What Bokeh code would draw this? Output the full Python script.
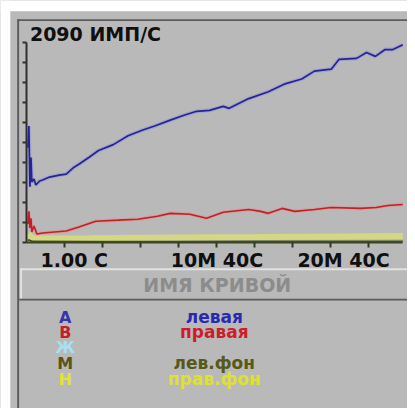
from bokeh.plotting import figure
from bokeh.models import Range1d, FixedTicker, Label, BoxAnnotation, LinearAxis
from bokeh.embed import file_html
from bokeh.resources import INLINE

# ---- data (time in seconds, counts in imp/s) ----
t_left = [5, 9, 14, 19, 23, 33, 42, 60, 74, 107, 153, 186, 223, 246, 293, 339, 409, 479,
          549, 605, 679, 744, 804, 865, 930, 958, 1051, 1144, 1223, 1302, 1362, 1442, 1479,
          1562, 1609, 1651, 1697, 1734, 1781]
left_counts = [994, 1219, 584, 891, 635, 666, 604, 645, 656, 686, 707, 717, 789, 820, 891, 963,
               1025, 1117, 1178, 1219, 1281, 1332, 1373, 1383, 1424, 1404, 1506, 1578, 1660,
               1711, 1793, 1813, 1916, 1926, 1988, 1947, 2018, 2018, 2069]

t_right = [5, 9, 14, 19, 23, 33, 47, 74, 130, 186, 246, 326, 432, 525, 618, 679, 772, 851,
           930, 1051, 1107, 1144, 1209, 1269, 1362, 1442, 1581, 1655, 1711, 1781]
right_counts = [195, 328, 154, 256, 113, 174, 92, 102, 113, 123, 164, 225, 236, 246, 277, 307,
                297, 256, 318, 348, 328, 307, 359, 328, 348, 369, 359, 369, 389, 400]

t_bg = [5, 30, 300, 700, 1100, 1500, 1781]
left_bg_counts = [30, 12, 10, 10, 12, 12, 14]
right_bg_counts = [90, 45, 48, 55, 60, 66, 70]

scale_max = 2090
t_max = 1780
y_ticks = [0, 209, 418, 627, 836, 1045, 1254, 1463, 1672, 1881, 2090]
x_ticks = [180, 360, 540, 720, 900, 1080, 1260, 1440, 1620]
x_tick_values = [1, 640, 1240]
x_tick_labels = ["1.00 С", "10М 40С", "20М 40С"]

title_text = "2090 ИМП/С"
header_text = "ИМЯ КРИВОЙ"
legend_keys = ["А", "В", "Ж", "М", "Н"]
legend_names = ["левая", "правая", "", "лев.фон", "прав.фон"]
key_colors = ["#3636a8", "#c41e2a", "#a8e0f0", "#5a5418", "#e4e42a"]
name_colors = ["#2a2ab0", "#cc1e28", "#a8e0f0", "#585818", "#e0e030"]

PANEL = "#b9b9b9"
FONT = "DejaVu Sans"

# ---- layout: the frame covers the whole canvas; coordinates below are reference-image pixels
# (415 x 416) that are scaled onto the 407 x 408 figure through the data ranges.
W, H = 407, 408
RW, RH = 415, 416
PX_L, PX_R, PY_T, PY_B = 27, 410, 43, 247     # plot area in reference pixels
sx = t_max / (PX_R - PX_L)                     # seconds per reference pixel
sy = scale_max / (PY_B - PY_T)                 # counts per reference pixel
f = W / RW


def dx(px):
    return (px - PX_L) * sx


def dy(py):
    return (PY_B - py) * sy


p = figure(width=W, height=H, output_backend="svg", toolbar_location=None,
           x_range=Range1d(dx(0), dx(RW)), y_range=Range1d(dy(RH), dy(0)),
           x_axis_location=None, y_axis_location=None,
           min_border_left=0, min_border_right=0, min_border_top=0, min_border_bottom=0)
p.border_fill_color = PANEL
p.background_fill_color = PANEL
p.outline_line_color = None
p.grid.visible = False


def box(x0, y0, x1, y1, color):
    p.add_layout(BoxAnnotation(left=dx(x0), right=dx(x1), top=dy(y0), bottom=dy(y1),
                               fill_color=color, fill_alpha=1.0, line_alpha=0,
                               level="underlay"))


# white margin strips and frame lines of the panel
box(0, 0, RW, 11, "white")
box(0, 0, 10, RH, "white")
box(17, 19, RW, 21, "#5c5c5c")
box(17, 19, 19, RH, "#5c5c5c")
box(20, 273, RW, 275, "#e2e2e2")
box(20, 273, 22, 304, "#e2e2e2")
box(19, 304, RW, 306, "#5a5a5a")

# axes placed at the data origin
ya = LinearAxis(fixed_location=0, ticker=FixedTicker(ticks=y_ticks), bounds=(0, scale_max),
                major_label_overrides={v: "" for v in y_ticks},
                major_tick_out=4, major_tick_in=0, minor_tick_out=0, minor_tick_in=0,
                axis_line_color="#303030", axis_line_width=2,
                major_tick_line_color="#303030", major_tick_line_width=2)
p.add_layout(ya, "left")

xa = LinearAxis(fixed_location=0, ticker=FixedTicker(ticks=x_ticks), bounds=(0, t_max),
                major_label_overrides={v: "" for v in x_ticks},
                major_tick_out=5, major_tick_in=0, minor_tick_out=0, minor_tick_in=0,
                axis_line_color="#3a4620", axis_line_width=2,
                major_tick_line_color="#303a20", major_tick_line_width=2)
p.add_layout(xa, "below")

# curves
p.line(t_bg, right_bg_counts, line_color="#d4d884", line_width=6)
p.line(t_bg, left_bg_counts, line_color="#4a5420", line_width=2)
p.line(t_right, right_counts, line_color="#e38a8a", line_width=3.5, line_alpha=0.5)
p.line(t_right, right_counts, line_color="#c41e26", line_width=1.6)
p.line(t_left, left_counts, line_color="#9a9ad6", line_width=4, line_alpha=0.7)
p.line(t_left, left_counts, line_color="#25258f", line_width=1.7)

# title
p.add_layout(Label(x=dx(30), y=dy(34), text=title_text, text_font=FONT,
                   text_font_style="bold", text_font_size="19px", text_color="#101010",
                   text_align="left", text_baseline="middle"))

# x tick labels (each label starts at its time value; centred on its character cells)
for v, s in zip(x_tick_values, x_tick_labels):
    p.add_layout(Label(x=v, y=dy(265), x_offset=8 * len(s) * f, text=s, text_font=FONT,
                       text_font_style="bold", text_font_size="19px", text_color="#101010",
                       text_align="center", text_baseline="middle"))

# legend header
p.add_layout(Label(x=dx(221), y=dy(290), text=header_text, text_font=FONT,
                   text_font_style="bold", text_font_size="19px", text_color="#8c8c8c",
                   text_align="center", text_baseline="middle"))

# legend rows
row_y = [323, 338, 354, 370, 386]
for k, n, kc, nc, ry in zip(legend_keys, legend_names, key_colors, name_colors, row_y):
    p.add_layout(Label(x=dx(66), y=dy(ry), text=k, text_font=FONT, text_font_style="bold",
                       text_font_size="16px", text_color=kc,
                       text_align="center", text_baseline="middle"))
    if n:
        p.add_layout(Label(x=dx(218), y=dy(ry), text=n, text_font=FONT,
                           text_font_style="bold", text_font_size="17px", text_color=nc,
                           text_align="center", text_baseline="middle"))

open("out.html", "w").write(file_html(p, INLINE))
